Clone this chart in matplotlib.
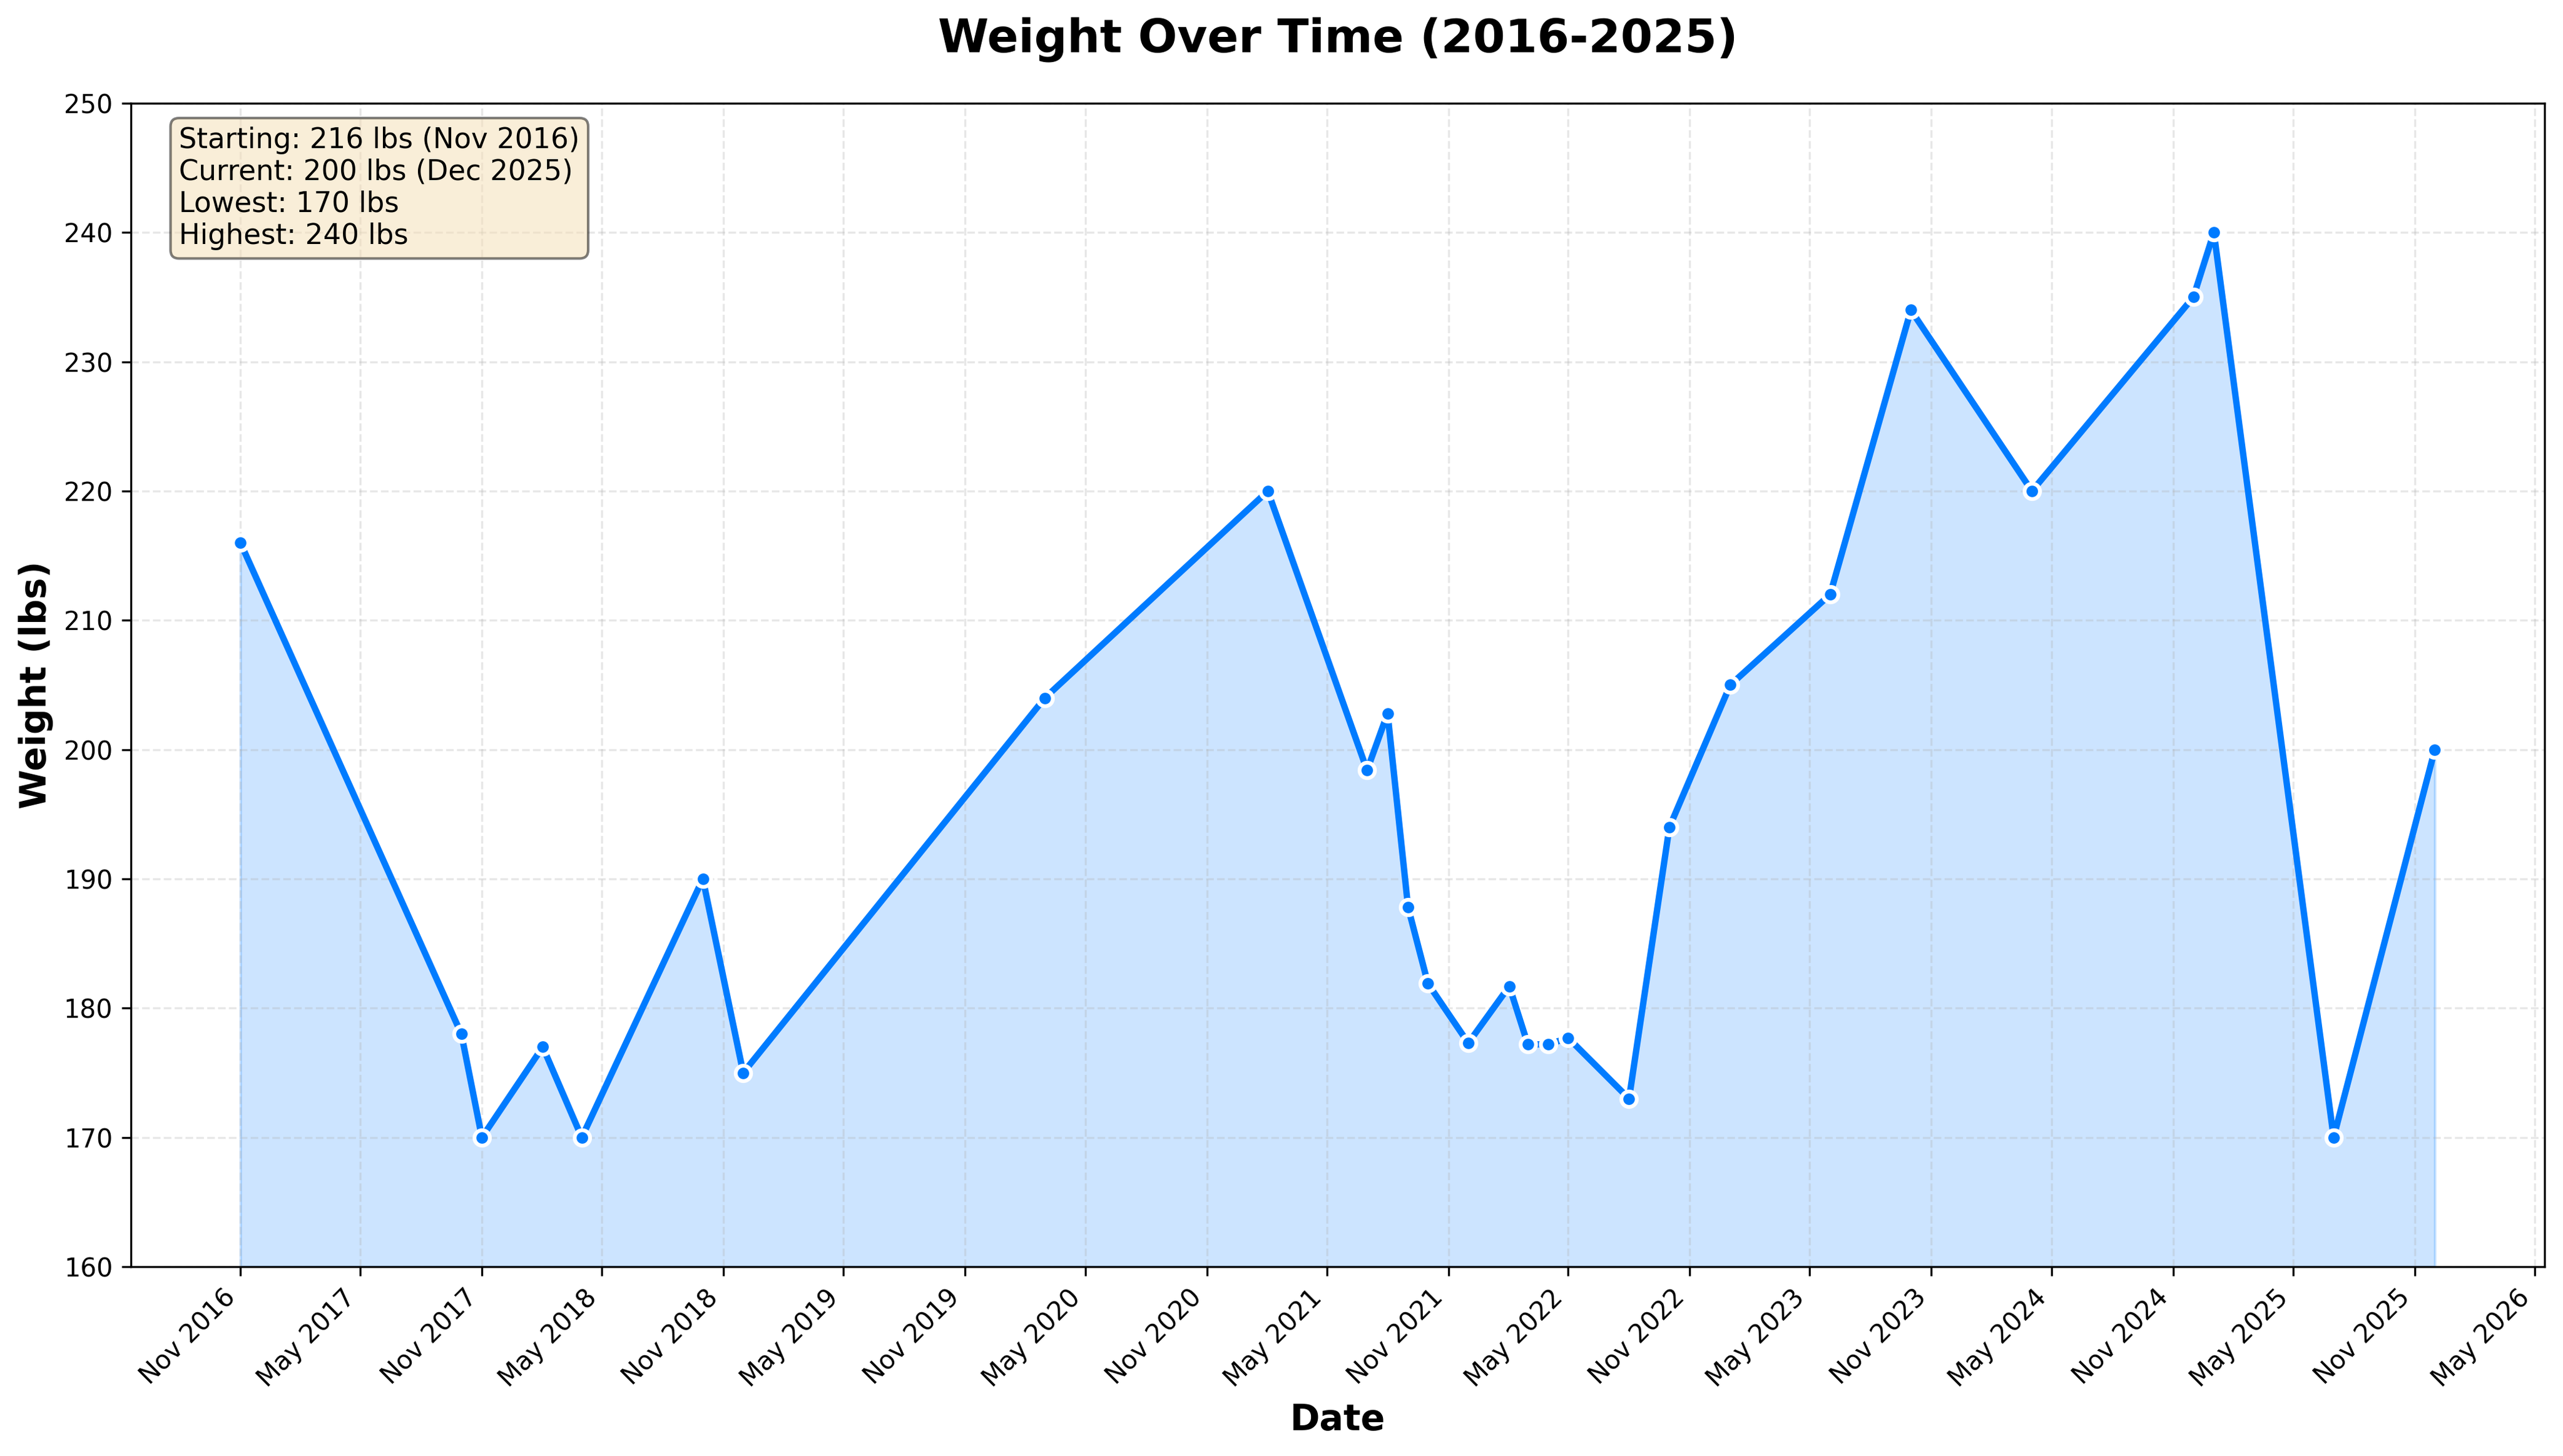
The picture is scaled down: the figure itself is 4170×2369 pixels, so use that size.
import numpy as np
import pandas as pd
import matplotlib
matplotlib.use("Agg")
import matplotlib.pyplot as plt
import matplotlib.dates as mdates

# weigh-ins (first of the month), lbs
dates = ["2016-11-01", "2017-10-01", "2017-11-01", "2018-02-01", "2018-04-01",
         "2018-10-01", "2018-12-01", "2020-03-01", "2021-02-01", "2021-07-01",
         "2021-08-01", "2021-09-01", "2021-10-01", "2021-12-01", "2022-02-01",
         "2022-03-01", "2022-04-01", "2022-05-01", "2022-08-01", "2022-10-01",
         "2023-01-01", "2023-06-01", "2023-10-01", "2024-04-01", "2024-12-01",
         "2025-01-01", "2025-07-01", "2025-12-01"]
weights = [216, 178, 170, 177, 170,
           190, 175, 204, 220, 198.4,
           202.8, 187.8, 181.9, 177.3, 181.7,
           177.2, 177.2, 177.7, 173, 194,
           205, 212, 234, 220, 235,
           240, 170, 200]

stats_text = ["Starting: 216 lbs (Nov 2016)",
              "Current: 200 lbs (Dec 2025)",
              "Lowest: 170 lbs",
              "Highest: 240 lbs"]

dates = pd.to_datetime(dates)
BLUE = "#007BFF"

fig, ax = plt.subplots(figsize=(13.9, 7.8967), dpi=300)
fig.subplots_adjust(left=0.051, right=0.9928, top=0.9291, bottom=0.130)

ax.fill_between(dates, weights, 160, color=BLUE, alpha=0.2)
ax.plot(dates, weights, color=BLUE, linewidth=2.5, marker="o", markersize=6,
        markerfacecolor=BLUE, markeredgecolor="white", markeredgewidth=1.5)

ax.set_ylim(160, 250)
ax.xaxis.set_major_locator(mdates.MonthLocator(bymonth=[5, 11]))
ax.xaxis.set_major_formatter(mdates.DateFormatter("%b %Y"))
plt.setp(ax.get_xticklabels(), rotation=45, ha="right")
ax.tick_params(labelsize=10)

ax.grid(True, linestyle="--", alpha=0.3)
ax.set_xlabel("Date", fontsize=14, fontweight="bold")
ax.set_ylabel("Weight (lbs)", fontsize=14, fontweight="bold")
ax.set_title("Weight Over Time (2016-2025)", fontsize=18, fontweight="bold", pad=20)

ax.text(0.02, 0.98, "\n".join(stats_text), transform=ax.transAxes, fontsize=11,
        va="top", bbox=dict(boxstyle="round", facecolor="wheat", alpha=0.5))

fig.savefig("out.png", dpi=300)
plt.close(fig)
